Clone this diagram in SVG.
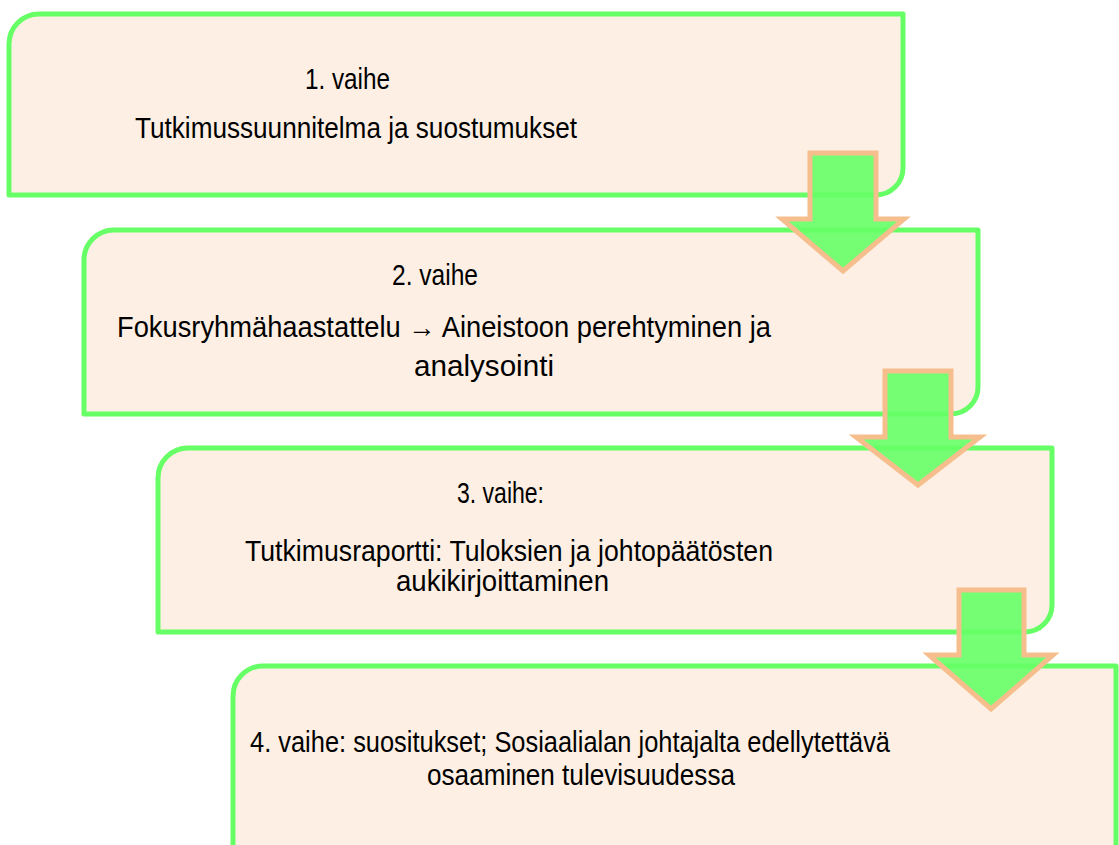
<svg xmlns="http://www.w3.org/2000/svg" width="1119" height="845" viewBox="0 0 1119 845">
<style>
.box{fill:#fdefe3;stroke:#66ff66;stroke-width:5;stroke-linejoin:round}
.arr{fill:#66ff66;fill-opacity:0.9;stroke:#f5be8c;stroke-width:5;stroke-linejoin:miter}
text{font-family:"Liberation Sans Narrow","Liberation Sans",Arial,sans-serif;font-size:29px;fill:#000}
</style>
<rect width="1119" height="845" fill="#ffffff"/>
<g id="node1">
<path class="box" d="M9,44 A30,30 0 0 1 39,14 H903 V168 A27,27 0 0 1 876,195 H9 Z"/>
<text x="305" y="89" textLength="85" lengthAdjust="spacingAndGlyphs">1. vaihe</text>
<text x="135" y="138" textLength="442" lengthAdjust="spacingAndGlyphs">Tutkimussuunnitelma ja suostumukset</text>
</g>
<g id="node2">
<path class="box" d="M84,260 A30,30 0 0 1 114,230 H978 V387 A27,27 0 0 1 951,414 H84 Z"/>
<text x="392" y="285" textLength="86" lengthAdjust="spacingAndGlyphs">2. vaihe</text>
<text x="117" y="337" textLength="654" lengthAdjust="spacingAndGlyphs">Fokusryhmähaastattelu → Aineistoon perehtyminen ja</text>
<text x="414" y="376" textLength="140" lengthAdjust="spacingAndGlyphs">analysointi</text>
</g>
<g id="node3">
<path class="box" d="M158,478 A30,30 0 0 1 188,448 H1052 V605 A27,27 0 0 1 1025,632 H158 Z"/>
<text x="457" y="503" textLength="87" lengthAdjust="spacingAndGlyphs">3. vaihe:</text>
<text x="245" y="561" textLength="528" lengthAdjust="spacingAndGlyphs">Tutkimusraportti: Tuloksien ja johtopäätösten</text>
<text x="396" y="591" textLength="213" lengthAdjust="spacingAndGlyphs">aukikirjoittaminen</text>
</g>
<g id="node4">
<path class="box" d="M233,696 A30,30 0 0 1 263,666 H1116 V880 H233 Z"/>
<text x="250" y="752" textLength="640" lengthAdjust="spacingAndGlyphs">4. vaihe: suositukset; Sosiaalialan johtajalta edellytettävä</text>
<text x="427" y="785" textLength="308" lengthAdjust="spacingAndGlyphs">osaaminen tulevisuudessa</text>
</g>
<g id="connectors">
<path class="arr" d="M810,153 H876 V219 H904 L843,271 L782,219 H810 Z"/>
<path class="arr" d="M885,371 H951 V437 H980 L918,485 L856,437 H885 Z"/>
<path class="arr" d="M959,590 H1024 V655 H1053 L991,709 L929,655 H959 Z"/>
</g>
</svg>
